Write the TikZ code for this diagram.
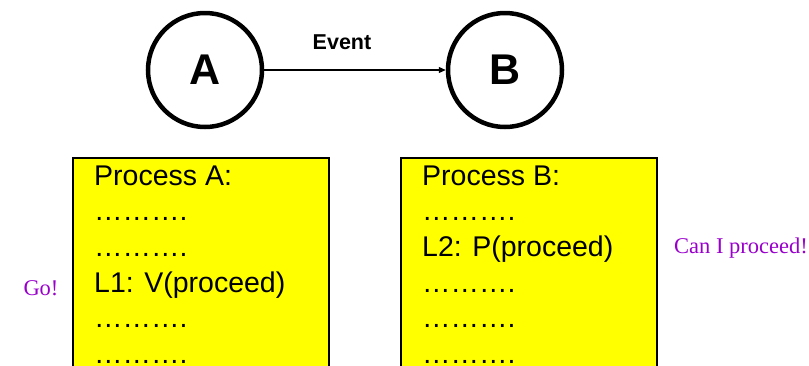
\documentclass[tikz,border=0pt]{standalone}
\usepackage{fontspec}
\setmainfont{Liberation Sans}
\newfontfamily\timesf{Liberation Serif}
\usetikzlibrary{arrows.meta}
\definecolor{boxyellow}{RGB}{255,255,0}
\definecolor{notepurple}{RGB}{153,0,204}
\tikzset{
  state/.style={circle, draw=black, line width=4.5pt, minimum size=114pt, inner sep=0pt,
    font=\fontsize{43}{50}\selectfont\bfseries},
  procbox/.style={draw=black, line width=1.5pt, fill=boxyellow, anchor=north west,
    minimum width=256pt, minimum height=230pt, inner sep=0pt},
  codeline/.style={anchor=base west, inner sep=0pt, font=\fontsize{28.5}{34}\selectfont},
  note/.style={inner sep=0pt, text=notepurple, font=\timesf\fontsize{22.5}{27}\selectfont},
}
\begin{document}
\begin{tikzpicture}[x=1pt,y=-1pt]
\useasboundingbox (0,0) rectangle (809,365);
\clip (0,0) rectangle (809,365);
\node[state] (A) at (205,70) {A};
\node[state] (B) at (505,70) {B};
\draw[line width=1.2pt, -{Triangle[length=7pt,width=6pt]}] (A.east) -- (B.west);
\node[inner sep=0pt, font=\fontsize{21.5}{24}\selectfont\bfseries] (ev) at (342,42) {Event};
\node[procbox] (boxA) at (72,157) {};
\node[procbox] (boxB) at (400,157) {};
\node[codeline] (a1) at (94,185.0) {Process A:};
\node[codeline] (a2) at (94,220.7) {……….};
\node[codeline] (a3) at (94,256.3) {……….};
\node[codeline] (a4) at (94,292.0) {L1: V(proceed)};
\node[codeline] (a5) at (94,327.7) {……….};
\node[codeline] (a6) at (94,363.3) {……….};
\node[codeline] (b1) at (422,185.0) {Process B:};
\node[codeline] (b2) at (422,220.7) {……….};
\node[codeline] (b3) at (422,256.3) {L2: P(proceed)};
\node[codeline] (b4) at (422,292.0) {……….};
\node[codeline] (b5) at (422,327.7) {……….};
\node[codeline] (b6) at (422,363.3) {……….};
\node[note] (go) at (41,288) {Go!};
\node[note] (can) at (741,248) {Can I proceed!};
\end{tikzpicture}
\end{document}
